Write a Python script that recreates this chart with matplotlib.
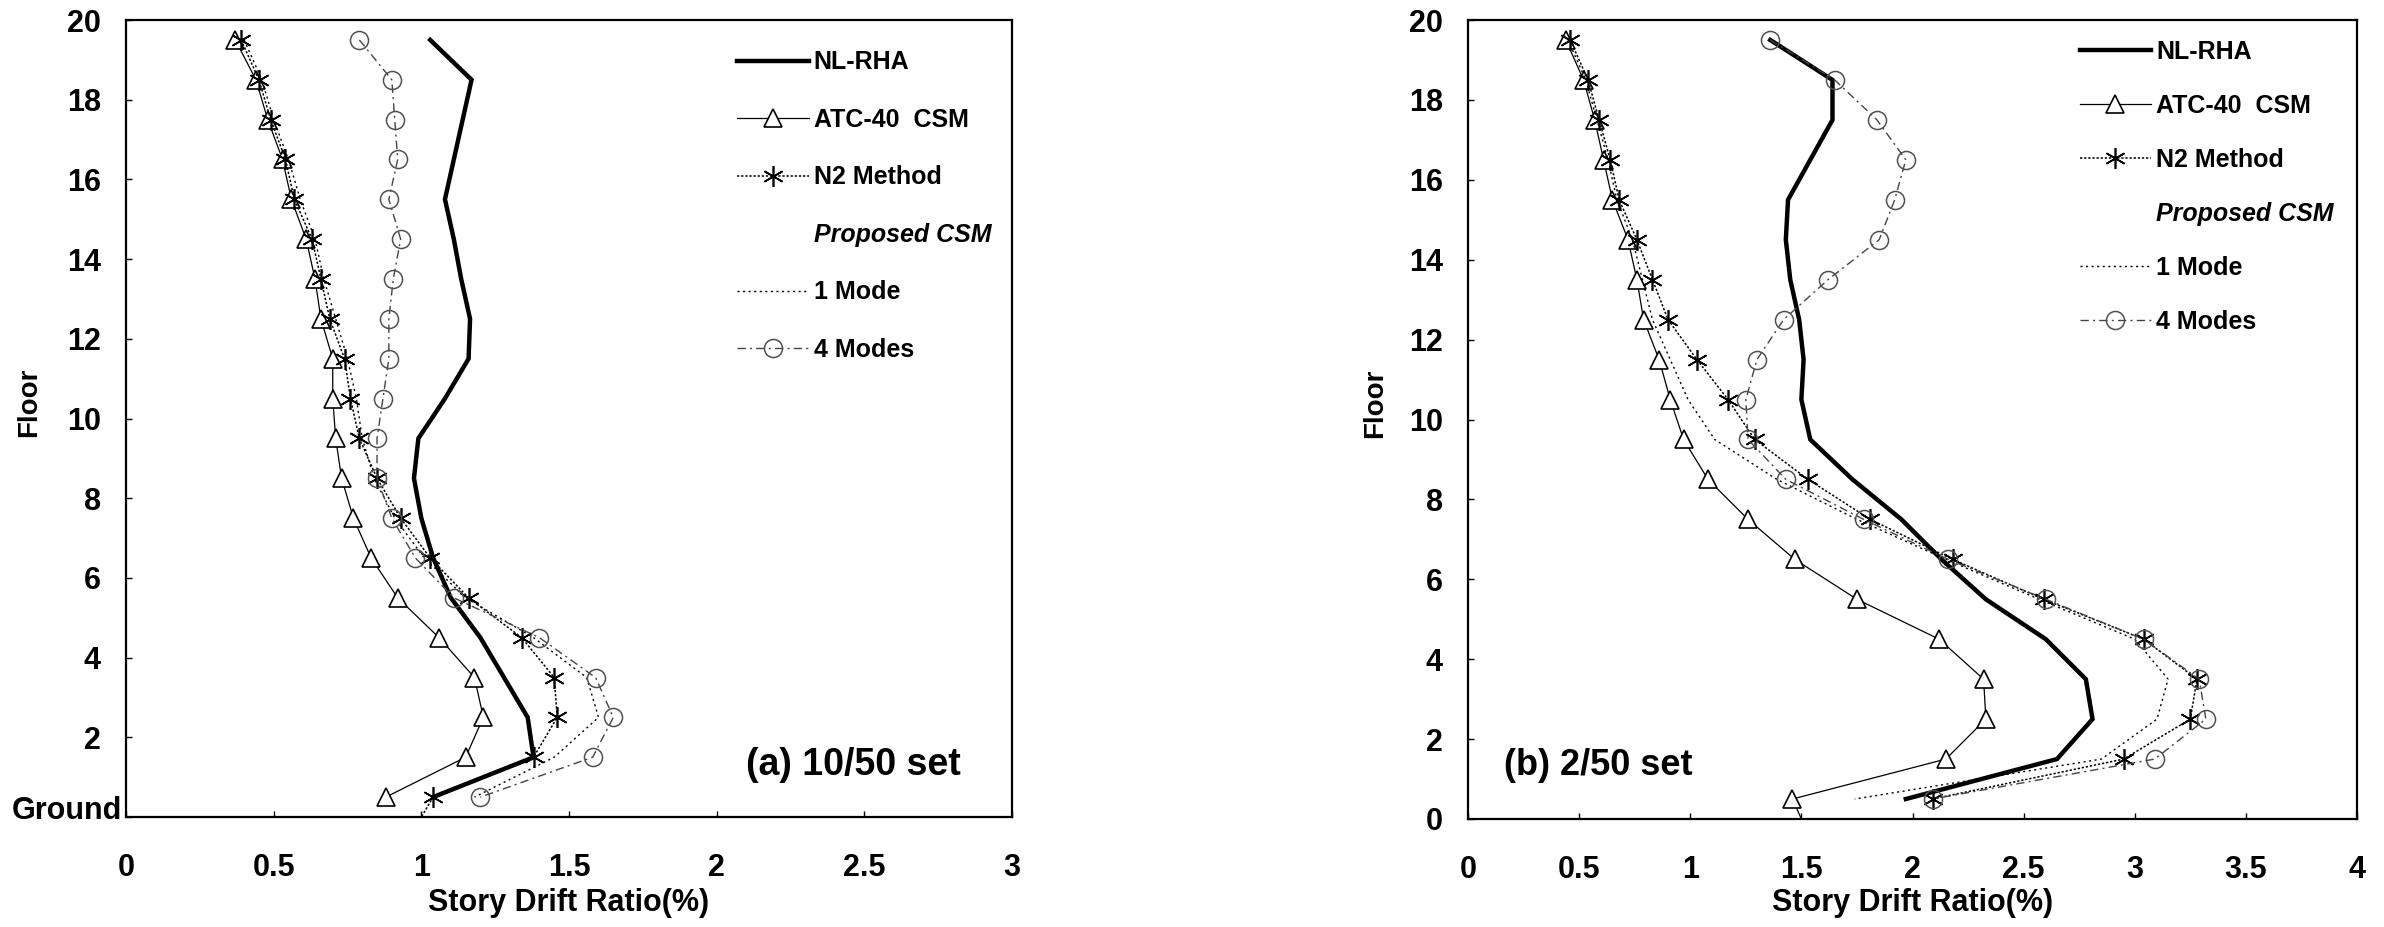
import matplotlib
matplotlib.use("Agg")
import matplotlib.pyplot as plt
from matplotlib.lines import Line2D

# story mid-heights (top to bottom)
story = [19.5, 18.5, 17.5, 16.5, 15.5, 14.5, 13.5, 12.5, 11.5, 10.5,
         9.5, 8.5, 7.5, 6.5, 5.5, 4.5, 3.5, 2.5, 1.5, 0.5]

# (a) 10/50 set
nlrha_a = [1.03, 1.17, 1.14, 1.11, 1.08, 1.11, 1.135, 1.165, 1.16, 1.08,
           0.99, 0.975, 1.00, 1.04, 1.10, 1.20, 1.28, 1.36, 1.38, 1.04]
atc_a = [0.37, 0.44, 0.48, 0.53, 0.56, 0.61, 0.64, 0.66, 0.70, 0.70,
         0.71, 0.73, 0.77, 0.83, 0.92, 1.06, 1.18, 1.21, 1.15, 0.88]
n2_a = [0.39, 0.45, 0.49, 0.54, 0.57, 0.63, 0.66, 0.69, 0.74, 0.76,
        0.79, 0.85, 0.93, 1.03, 1.16, 1.34, 1.45, 1.46, 1.38, 1.04]
mode1_a = [0.40, 0.46, 0.50, 0.55, 0.59, 0.64, 0.67, 0.71, 0.75, 0.78,
           0.80, 0.84, 0.91, 1.01, 1.15, 1.38, 1.56, 1.60, 1.45, 1.18]
mode4_a = [0.79, 0.90, 0.91, 0.92, 0.89, 0.93, 0.905, 0.89, 0.89, 0.87,
           0.85, 0.85, 0.90, 0.98, 1.11, 1.40, 1.59, 1.65, 1.58, 1.20]
n2_a_ground = 1.00

# (b) 2/50 set
nlrha_b = [1.36, 1.64, 1.64, 1.54, 1.44, 1.43, 1.45, 1.49, 1.51, 1.50,
           1.54, 1.73, 1.95, 2.13, 2.33, 2.60, 2.78, 2.81, 2.65, 1.97]
atc_b = [0.44, 0.52, 0.57, 0.61, 0.65, 0.72, 0.76, 0.79, 0.86, 0.91,
         0.97, 1.08, 1.26, 1.47, 1.75, 2.12, 2.32, 2.33, 2.15, 1.46]
n2_b = [0.46, 0.54, 0.59, 0.64, 0.68, 0.76, 0.83, 0.90, 1.03, 1.17,
        1.29, 1.53, 1.81, 2.18, 2.59, 3.04, 3.28, 3.25, 2.95, 2.09]
mode1_b = [0.45, 0.53, 0.58, 0.63, 0.67, 0.74, 0.785, 0.83, 0.91, 0.99,
           1.11, 1.39, 1.75, 2.15, 2.57, 3.00, 3.15, 3.10, 2.85, 1.74]
mode4_b = [1.36, 1.65, 1.84, 1.97, 1.92, 1.85, 1.62, 1.42, 1.30, 1.25,
           1.26, 1.43, 1.78, 2.16, 2.60, 3.04, 3.29, 3.32, 3.09, 2.09]
atc_b_ground = 1.50

labels = ["NL-RHA", "ATC-40  CSM", "N2 Method", "Proposed CSM", "1 Mode", "4 Modes"]

plt.rcParams["font.family"] = ["Liberation Sans", "DejaVu Sans"]
plt.rcParams["font.weight"] = "bold"


def draw_panel(ax, nlrha, atc, n2, mode1, mode4, xmax, ground_atc=None, ground_n2=None):
    ys = story + [0.0]
    l_nl, = ax.plot(nlrha, story, color="black", lw=3.2, solid_joinstyle="miter")
    x_atc = atc + [ground_atc] if ground_atc is not None else atc
    l_atc, = ax.plot(x_atc, ys[:len(x_atc)], color="black", lw=0.9, marker="^",
                     ms=13, mfc="white", mec="black", mew=1.2, markevery=list(range(20)))
    x_n2 = n2 + [ground_n2] if ground_n2 is not None else n2
    l_n2, = ax.plot(x_n2, ys[:len(x_n2)], color="black", lw=1.1, ls=(0, (1.5, 1.2)),
                    marker=(6, 2, 0), ms=15, mew=1.2, markevery=list(range(20)))
    l_m1, = ax.plot(mode1, story, color="black", lw=1.0, ls=(0, (1.5, 2.5)))
    l_m4, = ax.plot(mode4, story, color="#444444", lw=1.0, ls=(0, (6, 3, 1.5, 3)),
                    marker="o", ms=13, mfc="none", mec="#505050", mew=1.1)

    ax.set_xlim(0, xmax)
    ax.set_ylim(0, 20)
    ax.set_yticks([0, 2, 4, 6, 8, 10, 12, 14, 16, 18, 20])
    ax.tick_params(direction="in", length=4, width=1, labelsize=22)
    ax.tick_params(axis="x", pad=26)
    ax.tick_params(axis="y", pad=18)
    for s in ax.spines.values():
        s.set_linewidth(1.6)
    ax.set_xlabel("Story Drift Ratio(%)", fontsize=22, fontweight="bold")
    ax.set_ylabel("Floor", fontsize=20, fontweight="bold")

    blank = Line2D([], [], linestyle="none")
    handles = [l_nl, l_atc, l_n2, blank, l_m1, l_m4]
    return handles


fig = plt.figure(figsize=(23.84, 9.27), dpi=100)

ax1 = fig.add_axes([126 / 2384, 1 - 817 / 927, 886 / 2384, 797 / 927])
h1 = draw_panel(ax1, nlrha_a, atc_a, n2_a, mode1_a, mode4_a, 3, ground_n2=n2_a_ground)
ax1.set_xticks([0, 0.5, 1, 1.5, 2, 2.5, 3])
ax1.set_xticklabels(["0", "0.5", "1", "1.5", "2", "2.5", "3"])
ax1.set_yticklabels([""] + [str(v) for v in range(2, 21, 2)])
ax1.annotate("Ground", xy=(0, 0), xycoords=("axes fraction", "data"),
             xytext=(-3, 4), textcoords="offset points", ha="right", va="center",
             fontsize=22)
ax1.text(2.10, 1.3, "(a) 10/50 set", fontsize=27, ha="left", va="center")
ax1.xaxis.set_label_coords(0.5, -0.089)
ax1.yaxis.set_label_coords(-0.095, 0.52)
leg1 = ax1.legend(h1, labels, loc="upper left", bbox_to_anchor=(0.69, 0.962),
                  frameon=False, borderpad=0, borderaxespad=0, fontsize=18,
                  handlelength=2.85, handletextpad=0.2, labelspacing=1.34)
leg1.get_texts()[3].set_style("italic")

ax2 = fig.add_axes([1468 / 2384, 1 - 819 / 927, 889 / 2384, 799 / 927])
h2 = draw_panel(ax2, nlrha_b, atc_b, n2_b, mode1_b, mode4_b, 4, ground_atc=atc_b_ground)
ax2.set_xticks([0, 0.5, 1, 1.5, 2, 2.5, 3, 3.5, 4])
ax2.set_xticklabels(["0", "0.5", "1", "1.5", "2", "2.5", "3", "3.5", "4"])
ax2.text(0.16, 1.35, "(b) 2/50 set", fontsize=26, ha="left", va="center")
ax2.xaxis.set_label_coords(0.5, -0.086)
ax2.yaxis.set_label_coords(-0.09, 0.52)
leg2 = ax2.legend(h2, labels, loc="upper left", bbox_to_anchor=(0.688, 0.975),
                  frameon=False, borderpad=0, borderaxespad=0, fontsize=18,
                  handlelength=2.85, handletextpad=0.2, labelspacing=1.2)
leg2.get_texts()[3].set_style("italic")

fig.savefig("out.png", dpi=100)
